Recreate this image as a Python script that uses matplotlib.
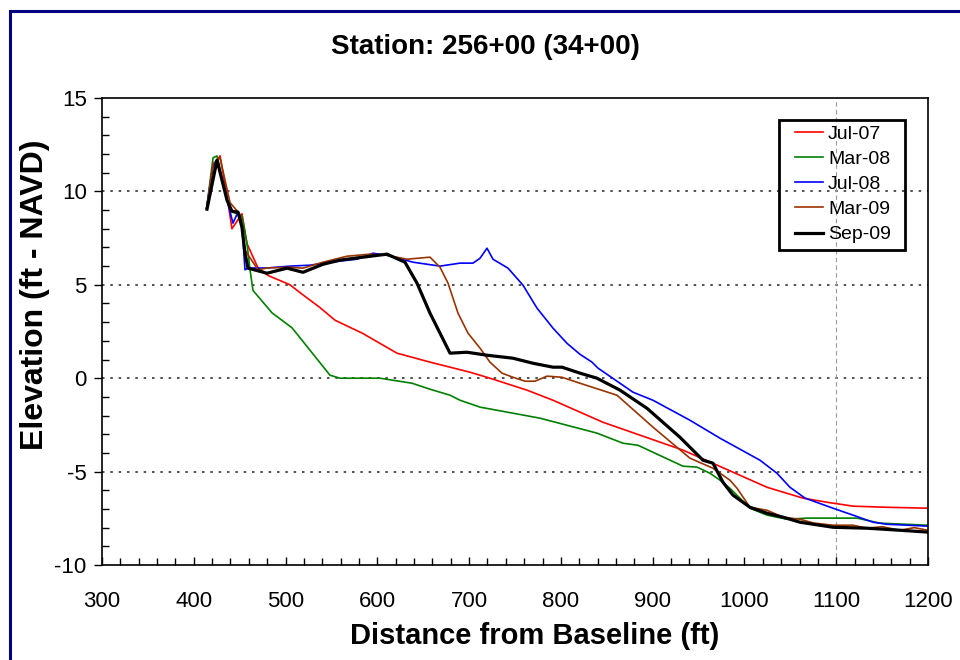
import matplotlib
matplotlib.use("Agg")
import matplotlib.pyplot as plt
from matplotlib.patches import Rectangle
from matplotlib.ticker import MultipleLocator

plt.rcParams['font.family'] = ['Liberation Sans', 'DejaVu Sans']
plt.rcParams['axes.unicode_minus'] = False

# profile surveys: distance from baseline (ft) / elevation (ft NAVD)
jul07_x = [414, 421, 428.6, 436, 441.6, 452.5, 458, 470, 480.9, 504.8, 517.9, 537, 554, 584, 621.4,
           657.4, 701, 722.7, 763.1, 791.4, 845.9, 933, 987.5, 1024.6, 1063.8, 1089.9, 1118.3, 1155.3, 1200]
jul07_y = [9.1, 11.3, 11.9, 9.8, 8.0, 8.8, 7.2, 5.9, 5.5, 5.0, 4.5, 3.8, 3.1, 2.4, 1.34,
           0.86, 0.32, 0.0, -0.64, -1.18, -2.36, -3.85, -5.03, -5.84, -6.42, -6.64, -6.85, -6.91, -6.96]

mar08_x = [414, 421, 425.3, 436, 441.6, 452.5, 458, 461.3, 464.5, 485.2, 507, 526.6, 548.4, 559.3, 602.9,
           637.8, 657.4, 679.2, 690.1, 712, 777.2, 839.3, 867.6, 884, 933, 948.3, 962.5, 973.3, 984.2,
           1006, 1024.6, 1046.3, 1068.1, 1122.6, 1147.7, 1200]
mar08_y = [9.1, 11.8, 11.9, 9.6, 8.9, 8.7, 7.2, 5.8, 4.7, 3.5, 2.7, 1.5, 0.16, 0.0, 0.0,
           -0.27, -0.59, -0.91, -1.18, -1.55, -2.14, -2.94, -3.48, -3.59, -4.71, -4.76, -5.09, -5.46, -5.89,
           -6.96, -7.33, -7.55, -7.49, -7.49, -7.76, -7.87]

jul08_x = [414, 421, 425.3, 436, 442.7, 448.2, 452.5, 455.8, 459.1, 479.8, 504.8, 526.6, 548.4, 577.8, 595.3,
           610.5, 638.9, 668.3, 690.1, 704.2, 711.9, 719.5, 726, 742.4, 758.7, 774, 791.4, 806.6, 820.8,
           833.9, 840.4, 878.6, 900.3, 940.6, 973.3, 1016.9, 1035.5, 1049.6, 1066, 1096.5, 1118.3, 1140.1,
           1155.3, 1200]
jul08_y = [9.1, 11.4, 11.7, 9.6, 8.3, 8.9, 8.2, 5.8, 5.9, 5.9, 6.0, 6.05, 6.21, 6.37, 6.69,
           6.58, 6.21, 6.0, 6.16, 6.16, 6.42, 6.96, 6.37, 5.89, 4.98, 3.75, 2.68, 1.87, 1.28,
           0.86, 0.54, -0.75, -1.18, -2.25, -3.21, -4.39, -5.09, -5.84, -6.42, -6.96, -7.33, -7.71,
           -7.82, -7.92]

mar09_x = [414, 421, 428.6, 439.5, 451.5, 455.8, 470, 479.8, 504.8, 519, 540.8, 566.9, 592, 610.5, 632.3,
           657.4, 668.3, 677, 687.9, 698.8, 711.9, 722.7, 735.8, 747.8, 760.9, 771.8, 784.9, 801.2, 820.8,
           861.1, 900.3, 940.6, 965.7, 984.2, 991.9, 1006, 1024.6, 1042, 1060.5, 1075, 1096.5, 1118.3,
           1133.5, 1150, 1169.5, 1185, 1200]
mar09_y = [9.1, 11.5, 11.8, 9.4, 8.7, 6.85, 5.8, 5.9, 5.94, 5.89, 6.21, 6.53, 6.64, 6.58, 6.37,
           6.48, 5.94, 5.09, 3.48, 2.41, 1.61, 0.86, 0.27, 0.05, -0.16, -0.16, 0.11, 0.05, -0.27,
           -0.91, -2.62, -4.28, -4.82, -5.46, -5.89, -6.91, -7.07, -7.44, -7.55, -7.75, -7.87, -7.87,
           -8.03, -7.95, -8.14, -8.0, -8.14]

sep09_x = [414.4, 425.3, 436.2, 441.6, 448.2, 452.5, 455.8, 459.1, 479.8, 501.6, 519, 540.8, 559.3, 584.4, 610.5,
           630.1, 643.2, 657.4, 679.2, 697.7, 719.5, 747.8, 769.6, 791.4, 801.2, 820.8, 839.3, 864.4, 893.8,
           929.7, 954.8, 965.7, 976.6, 987.5, 1006, 1024.6, 1042, 1060.5, 1096.5, 1133.5, 1169.5, 1200]
sep09_y = [9.05, 11.67, 9.53, 8.94, 8.89, 8.08, 6.69, 5.89, 5.62, 5.89, 5.67, 6.1, 6.32, 6.48, 6.64,
           6.21, 5.09, 3.48, 1.34, 1.39, 1.23, 1.07, 0.8, 0.59, 0.59, 0.27, 0.0, -0.64, -1.61,
           -3.16, -4.39, -4.55, -5.57, -6.26, -6.91, -7.23, -7.44, -7.71, -7.98, -8.03, -8.14, -8.24]

fig = plt.figure(figsize=(9.6, 6.6), dpi=100)
ax = fig.add_axes([102 / 960, 1 - 565 / 660, 826 / 960, 467 / 660])

ax.plot(jul07_x, jul07_y, color='#ff0000', lw=1.2, label='Jul-07')
ax.plot(mar08_x, mar08_y, color='#008000', lw=1.2, label='Mar-08')
ax.plot(jul08_x, jul08_y, color='#0000ff', lw=1.2, label='Jul-08')
ax.plot(mar09_x, mar09_y, color='#993300', lw=1.2, label='Mar-09')
ax.plot(sep09_x, sep09_y, color='black', lw=2.3, label='Sep-09')

for yv in [10, 5, 0, -5]:
    ax.axhline(yv, color='#333333', lw=1.2, ls=(0, (1.5, 3.5)), zorder=0)
ax.axvline(1100, color='#999999', lw=0.8, ls=(0, (4, 3)), zorder=0)

ax.set_xlim(300, 1200)
ax.set_ylim(-10, 15)
ax.xaxis.set_major_locator(MultipleLocator(100))
ax.xaxis.set_minor_locator(MultipleLocator(20))
ax.yaxis.set_major_locator(MultipleLocator(5))
ax.yaxis.set_minor_locator(MultipleLocator(1))
ax.tick_params(axis='x', which='major', direction='in', length=6, width=1, labelsize=16, pad=19)
ax.tick_params(axis='x', which='minor', direction='in', length=5, width=1)
ax.tick_params(axis='y', which='major', direction='out', length=6, width=1, labelsize=16, pad=5)
ax.tick_params(axis='y', which='minor', direction='in', length=5, width=1)
for sp in ax.spines.values():
    sp.set_linewidth(1.2)

fig.text(535 / 960, 1 - 636 / 660, 'Distance from Baseline (ft)', ha='center', va='center',
         fontsize=21, fontweight='bold')
fig.text(35 / 960, 1 - 295 / 660, 'Elevation (ft - NAVD)', ha='center', va='center',
         rotation=90, fontsize=23, fontweight='bold')
fig.text(485 / 960, 1 - 47 / 660, 'Station: 256+00 (34+00)', ha='center', va='center',
         fontsize=20, fontweight='bold')

# legend entries without their own frame; box drawn separately
leg = ax.legend(loc='upper left', bbox_to_anchor=(693 / 826, (565 - 125) / 467), fontsize=14,
                frameon=False, handlelength=1.44, handletextpad=0.26, labelspacing=0.39,
                borderpad=0, borderaxespad=0)
ax.add_patch(Rectangle((677 / 826, (565 - 250) / 467), 126 / 826, 130 / 467, transform=ax.transAxes,
                       fill=False, edgecolor='black', lw=2, zorder=5))

# outer chart border
fig.patches.append(Rectangle((10 / 960, -0.1), 1.2, 1.1 - 11 / 660, transform=fig.transFigure,
                             fill=False, edgecolor='#000080', lw=2.2, clip_on=False))

fig.savefig('out.png', dpi=100)
